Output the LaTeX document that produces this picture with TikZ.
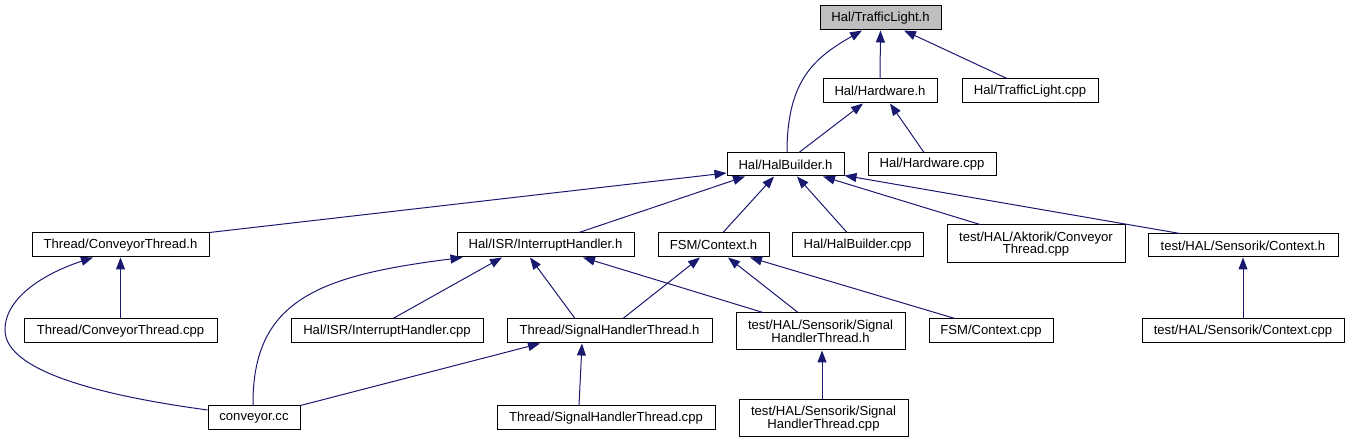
\documentclass[tikz,border=0pt]{standalone}
\usepackage{fontspec}
\setmainfont{Liberation Sans}
\usetikzlibrary{arrows.meta}
\definecolor{edgeblue}{HTML}{191970}
\definecolor{rootgray}{HTML}{BFBFBF}
\tikzset{
  box/.style={draw=black, line width=1pt, fill=white, inner sep=0pt, align=center,
    minimum height=24pt, font=\fontsize{13.1}{12.5}\selectfont},
  tall/.style={minimum height=37pt},
  root/.style={box, fill=rootgray},
  edge/.style={draw=edgeblue, line width=1pt, -{Triangle[length=12pt,width=9pt]}},
}
\begin{document}
\begin{tikzpicture}[x=1pt,y=-1pt]
\useasboundingbox (0,0) rectangle (1350,443);
% nodes
\node[root, minimum width=121pt] (tl) at (880.5,18) {Hal/TrafficLight.h};
\node[box, minimum width=114pt] (hw) at (880,91) {Hal/Hardware.h};
\node[box, minimum width=136pt] (tlc) at (1030,91) {Hal/TrafficLight.cpp};
\node[box, minimum width=117pt, minimum height=23pt] (hb) at (785.5,164.5) {Hal/HalBuilder.h};
\node[box, minimum width=128pt, minimum height=23pt] (hwc) at (932,164.5) {Hal/Hardware.cpp};
\node[box, minimum width=177pt] (ct) at (120.5,245) {Thread/ConveyorThread.h};
\node[box, minimum width=177pt] (ih) at (545.5,245) {Hal/ISR/InterruptHandler.h};
\node[box, minimum width=111pt] (fc) at (713.5,245) {FSM/Context.h};
\node[box, minimum width=131pt] (hbc) at (857.5,245) {Hal/HalBuilder.cpp};
\node[box, tall, minimum width=178pt, minimum height=38pt] (akt) at (1036,244) {test/HAL/Aktorik/Conveyor\\Thread.cpp};
\node[box, minimum width=190pt, minimum height=23pt] (sc) at (1243,245.5) {test/HAL/Sensorik/Context.h};
\node[box, minimum width=193pt] (ctc) at (120.5,331) {Thread/ConveyorThread.cpp};
\node[box, minimum width=192pt] (ihc) at (387,331) {Hal/ISR/InterruptHandler.cpp};
\node[box, minimum width=205pt] (sht) at (609.5,331) {Thread/SignalHandlerThread.h};
\node[box, tall, minimum width=169pt] (tsh) at (820.5,331.5) {test/HAL/Sensorik/Signal\\HandlerThread.h};
\node[box, minimum width=124pt] (fcc) at (991,331) {FSM/Context.cpp};
\node[box, minimum width=202pt] (scc) at (1243,331) {test/HAL/Sensorik/Context.cpp};
\node[box, minimum width=92pt] (cc) at (254,418) {conveyor.cc};
\node[box, minimum width=218pt] (shc) at (606,418) {Thread/SignalHandlerThread.cpp};
\node[box, tall, minimum width=169pt] (tshc) at (823.5,418.5) {test/HAL/Sensorik/Signal\\HandlerThread.cpp};
\coordinate (bendA) at (5,330);
% edges
\draw[edge] (hw.north) -- (tl.south);
\draw[edge] ([shift={(1.5,0)}]hb.north) .. controls +(0,-73) and +(-47,27) .. ([shift={(-18.5,0)}]tl.south);
\draw[edge] ([shift={(-23,0)}]tlc.north) -- ([shift={(23.5,0)}]tl.south);
\draw[edge] ([shift={(13.5,0)}]hb.north) -- ([shift={(-17,0)}]hw.south);
\draw[edge] ([shift={(-8,0)}]hwc.north) -- ([shift={(10,0)}]hw.south);
\draw[edge] (ct.north east) -- ([shift={(0,8.5)}]hb.west);
\draw[edge] ([shift={(33.5,0)}]ih.north) -- ([shift={(-40.5,0)}]hb.south);
\draw[edge] ([shift={(9.5,0)}]fc.north) -- ([shift={(-11.5,0)}]hb.south);
\draw[edge] ([shift={(-10.5,0)}]hbc.north) -- ([shift={(11.5,0)}]hb.south);
\draw[edge] ([shift={(-56,0)}]akt.north) -- ([shift={(37.5,0)}]hb.south);
\draw[edge] ([shift={(-63,0)}]sc.north) -- ([shift={(0,-1)}]hb.south east);
\draw[edge] ([shift={(0,-8)}]cc.west) .. controls +(-88,-12) and +(0,45) .. (bendA) .. controls +(0,-35) and +(-43,14) .. ([shift={(-27.5,0)}]ct.south);
\draw[edge] (ctc.north) -- (ct.south);
\draw[edge] ([shift={(-1,0)}]cc.north) .. controls +(-1,-106) and +(-143,18) .. ([shift={(6,0)}]ih.south west);
\draw[edge] ([shift={(6,0)}]ihc.north) -- ([shift={(-43.5,0)}]ih.south);
\draw[edge] ([shift={(-34.5,0)}]sht.north) -- ([shift={(-15.5,0)}]ih.south);
\draw[edge] ([shift={(-57.5,0)}]tsh.north) -- ([shift={(37.5,0)}]ih.south);
\draw[edge] ([shift={(13.5,0)}]sht.north) -- ([shift={(-13.5,0)}]fc.south);
\draw[edge] ([shift={(-22.5,0)}]tsh.north) -- ([shift={(14.5,0)}]fc.south);
\draw[edge] ([shift={(-36,0)}]fcc.north) -- ([shift={(36.5,0)}]fc.south);
\draw[edge] (scc.north) -- (sc.south);
\draw[edge] (cc.north east) -- ([shift={(-69.5,0)}]sht.south);
\draw[edge] ([shift={(-27,0)}]shc.north) -- ([shift={(-27.5,0)}]sht.south);
\draw[edge] ([shift={(-1.5,0)}]tshc.north) -- ([shift={(1.5,0)}]tsh.south);
\end{tikzpicture}
\end{document}
